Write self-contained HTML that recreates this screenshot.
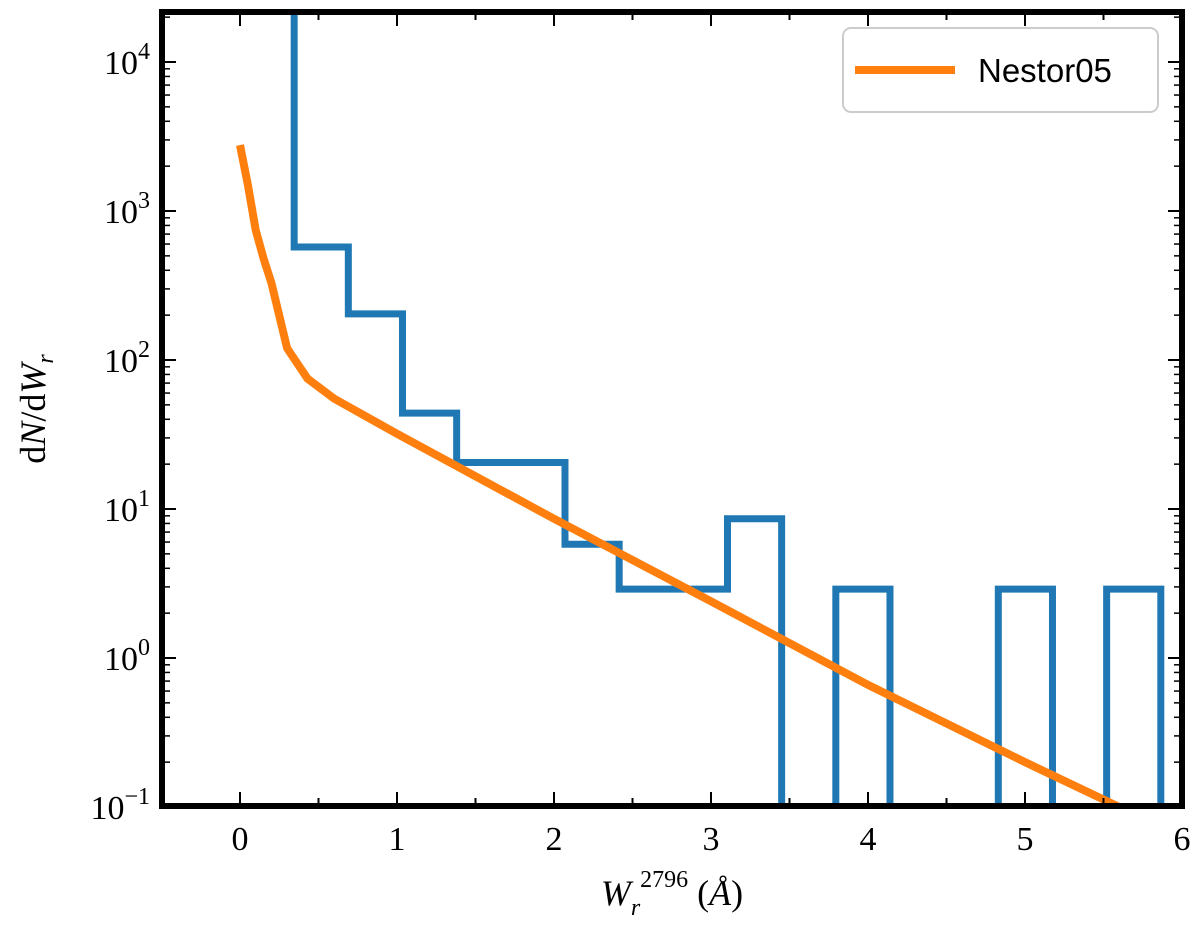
<!DOCTYPE html>
<html><head><meta charset="utf-8"><style>
body{margin:0;background:#fff}
svg{display:block}
text{font-family:"Liberation Serif",serif;fill:#000}
</style></head><body>
<svg id="chart" width="1200" height="934" viewBox="0 0 1200 934" xmlns="http://www.w3.org/2000/svg">
<defs><clipPath id="clip"><rect x="162" y="12" width="1020" height="794"/></clipPath></defs>
<g id="marks" clip-path="url(#clip)"></g>
<rect x="162" y="12" width="1020" height="794" fill="none" stroke="#000" stroke-width="6"/>
<g id="axes"></g>
<text x="672" y="905" font-size="36" text-anchor="middle"><tspan font-style="italic">W</tspan><tspan font-style="italic" font-size="24" dy="10">r</tspan><tspan font-size="24" dy="-28">2796</tspan><tspan dy="18"> (</tspan><tspan font-style="italic">Å</tspan>)</text>
<text transform="translate(45,409) rotate(-90)" font-size="36" text-anchor="middle">d<tspan font-style="italic">N</tspan>/d<tspan font-style="italic">W</tspan><tspan font-style="italic" font-size="24" dy="8">r</tspan></text>
<g>
<rect x="843" y="28" width="315" height="84" rx="8" fill="#fff" stroke="#ccc" stroke-width="2"/>
<line x1="855" y1="70" x2="955" y2="70" stroke="#ff7f0e" stroke-width="8"/>
<text x="978" y="82" font-size="33" style="font-family:'Liberation Sans',sans-serif">Nestor05</text>
</g>
</svg>
<script>
const binEdges=[0.345,0.69,1.035,1.38,1.725,2.07,2.415,2.76,3.105,3.45,3.795,4.14,4.485,4.83,5.175,5.52,5.865];
const binValues=[573,204,44,20.5,20.5,5.8,2.9,2.9,8.6,0,2.9,0,0,2.9,0,2.9];
const nestorX=[0,0.05,0.1,0.15,0.2,0.3,0.43,0.6,1,2,3,4,5,5.6,6];
const nestorY=[2770,1500,745,480,329,120,75,55,32,8.6,2.4,0.66,0.2,0.1,0.055];
const xTicks=[0,1,2,3,4,5,6];
const yTickExp=[-1,0,1,2,3,4];
const NS="http://www.w3.org/2000/svg";
const X=v=>240+157*v;
const Y=v=>{if(v<=0)return 900;return 62+(4-Math.log10(v))*149;};
const marks=document.getElementById('marks'),axes=document.getElementById('axes');
function mk(tag,attrs,parent){const e=document.createElementNS(NS,tag);for(const k in attrs)e.setAttribute(k,attrs[k]);parent.appendChild(e);return e;}
let d=`M${X(binEdges[0])},-10`;
for(let i=0;i<binValues.length;i++){d+=` L${X(binEdges[i])},${Y(binValues[i])} L${X(binEdges[i+1])},${Y(binValues[i])}`;}
d+=` L${X(binEdges[binEdges.length-1])},900`;
const h=mk('path',{d:d,fill:'none',stroke:'#1f77b4','stroke-width':7,'stroke-linejoin':'miter'},marks);


const pts=nestorX.map((x,i)=>X(x)+','+Y(nestorY[i])).join(' ');
const l=mk('polyline',{points:pts,fill:'none',stroke:'#ff7f0e','stroke-width':8,'stroke-linejoin':'round'},marks);


for(let v=-0.5;v<=6.01;v+=0.5){const x=X(v);const major=Math.abs(v-Math.round(v))<1e-6;const len=major?14:8;
 const t1=mk('line',{x1:x,x2:x,y1:806,y2:806-len,stroke:'#000','stroke-width':2},axes);
 
 
 const t2=mk('line',{x1:x,x2:x,y1:12,y2:12+len,stroke:'#000','stroke-width':2},axes);
 
 }
xTicks.forEach(v=>{const t=mk('text',{x:X(v),y:850,'font-size':34,'text-anchor':'middle'},axes);t.textContent=v;
 
 });
yTickExp.forEach(e=>{const y=Y(Math.pow(10,e));
 [[162,176],[1182,1168]].forEach(p=>{const t=mk('line',{x1:p[0],x2:p[1],y1:y,y2:y,stroke:'#000','stroke-width':2},axes);
 
 });
 const t=mk('text',{x:150,y:y+12,'font-size':34,'text-anchor':'end'},axes);
 t.innerHTML='10<tspan font-size="24" dy="-15">'+(e<0?'−'+(-e):e)+'</tspan>';
 
 
 for(let m=2;m<10;m++){const yy=Y(m*Math.pow(10,e));if(yy<12)continue;
  [[162,170],[1182,1174]].forEach(p=>{const mt=mk('line',{x1:p[0],x2:p[1],y1:yy,y2:yy,stroke:'#000','stroke-width':1.5},axes);
  
  });}
});
</script>
</body></html>
